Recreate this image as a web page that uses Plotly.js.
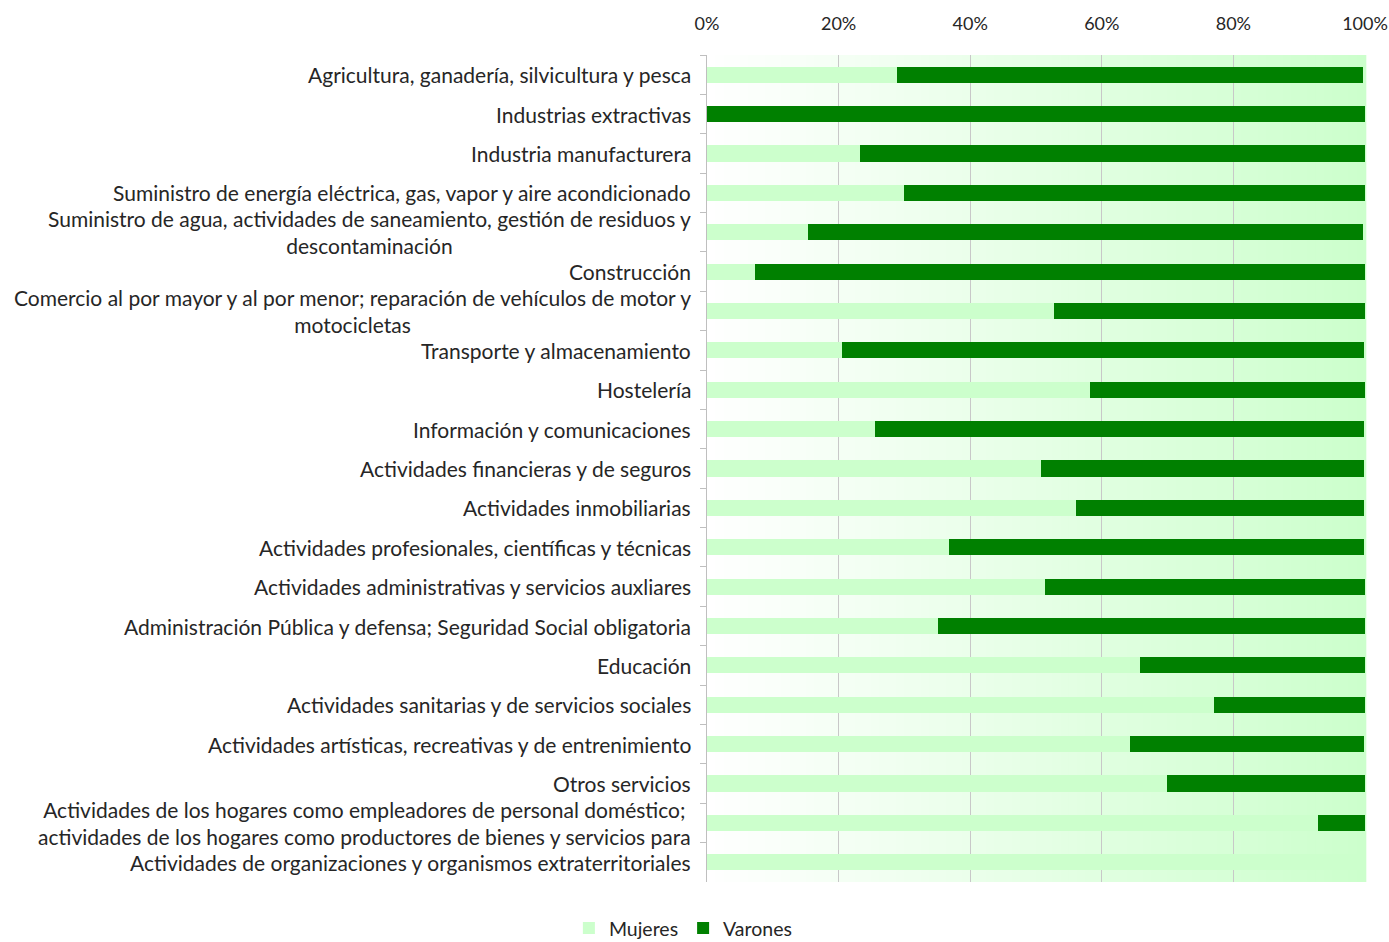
<!DOCTYPE html>
<html>
<head>
<meta charset="utf-8">
<script src="https://cdn.plot.ly/plotly-3.0.1.min.js"></script>
<style>
html,body{margin:0;padding:0;background:#fff;}
#chart{width:1389px;height:942px;}
</style>
</head>
<body>
<div id="chart"></div>
<script>
const categories = [
  "Agricultura, ganadería, silvicultura y pesca",
  "Industrias extractivas",
  "Industria manufacturera",
  "Suministro de energía eléctrica, gas, vapor y aire acondicionado",
  "Suministro de agua, actividades de saneamiento, gestión de residuos y<br>descontaminación",
  "Construcción",
  "Comercio al por mayor y al por menor; reparación de vehículos de motor y<br>motocicletas",
  "Transporte y almacenamiento",
  "Hostelería",
  "Información y comunicaciones",
  "Actividades financieras y de seguros",
  "Actividades inmobiliarias",
  "Actividades profesionales, científicas y técnicas",
  "Actividades administrativas y servicios auxliares",
  "Administración Pública y defensa; Seguridad Social obligatoria",
  "Educación",
  "Actividades sanitarias y de servicios sociales",
  "Actividades artísticas, recreativas y de entrenimiento",
  "Otros servicios",
  "Actividades de los hogares como empleadores de personal doméstico;<br>actividades de los hogares como productores de bienes y servicios para",
  "Actividades de organizaciones y organismos extraterritoriales"
];
const mujeres = [28.9, 0, 23.3, 29.9, 15.3, 7.3, 52.7, 20.5, 58.2, 25.5, 50.8, 56.1, 36.8, 51.4, 35.1, 65.8, 77.1, 64.3, 69.9, 92.9, 100];
const varones = [70.8, 100, 76.7, 70.1, 84.4, 92.7, 47.3, 79.3, 41.8, 74.3, 49.1, 43.8, 63.1, 48.6, 64.9, 34.2, 22.9, 35.6, 30.1, 7.1, 0];
const tickVals = [0, 20, 40, 60, 80, 100];
const tickText = ["0%", "20%", "40%", "60%", "80%", "100%"];

const FONT = "Lato, 'Open Sans', sans-serif";
const TXT = "#262626";

const traces = [
  {type: "bar", orientation: "h", name: "Mujeres", y: categories, x: mujeres,
   marker: {color: "#ccffcc"}, hoverinfo: "x+name"},
  {type: "bar", orientation: "h", name: "Varones", y: categories, x: varones,
   marker: {color: "#008000"}, hoverinfo: "x+name"}
];

// background horizontal gradient (white -> light green)
const shapes = [];
const N = 80;
for (let i = 0; i < N; i++) {
  const t = (i + 0.5) / N;
  const r = Math.round(255 + (204 - 255) * t);
  shapes.push({type: "rect", xref: "paper", yref: "paper", x0: i / N, x1: (i + 1) / N + 0.002,
    y0: 0, y1: 1, fillcolor: `rgb(${r},255,${r})`, line: {width: 0}, layer: "below"});
}

const annotations = categories.map(c => ({
  xref: "paper", yref: "y", x: 0, y: c, xanchor: "right", yanchor: "middle",
  xshift: -14, text: c, showarrow: false, align: "center",
  font: {family: FONT, size: 21, color: TXT}
}));

const layout = {
  width: 1389, height: 942,
  margin: {l: 707, r: 24, t: 55, b: 60, autoexpand: false},
  paper_bgcolor: "#ffffff",
  plot_bgcolor: "rgba(0,0,0,0)",
  barmode: "stack",
  bargap: 0.59,
  font: {family: FONT, size: 18, color: TXT},
  xaxis: {
    side: "top", range: [0, 100], tickvals: tickVals, ticktext: tickText,
    showgrid: true, gridcolor: "#c8c8c8", gridwidth: 1, zeroline: false,
    showline: false, ticks: "", ticklabelstandoff: 20, automargin: false,
    tickfont: {family: FONT, size: 18, color: TXT}
  },
  yaxis: {
    type: "category", autorange: "reversed", showticklabels: false, automargin: false,
    showline: true, linecolor: "#bfbfbf", linewidth: 1,
    ticks: "outside", tickson: "boundaries", ticklen: 6, tickcolor: "#bfbfbf",
    showgrid: false, zeroline: false
  },
  legend: {
    orientation: "h", xref: "container", x: 0.492, xanchor: "center",
    yref: "paper", y: -0.056, yanchor: "middle",
    font: {family: FONT, size: 19.5, color: TXT}, traceorder: "normal"
  },
  shapes: shapes,
  annotations: annotations,
  showlegend: true
};

Plotly.newPlot("chart", traces, layout, {displayModeBar: false, staticPlot: true});
</script>
</body>
</html>
